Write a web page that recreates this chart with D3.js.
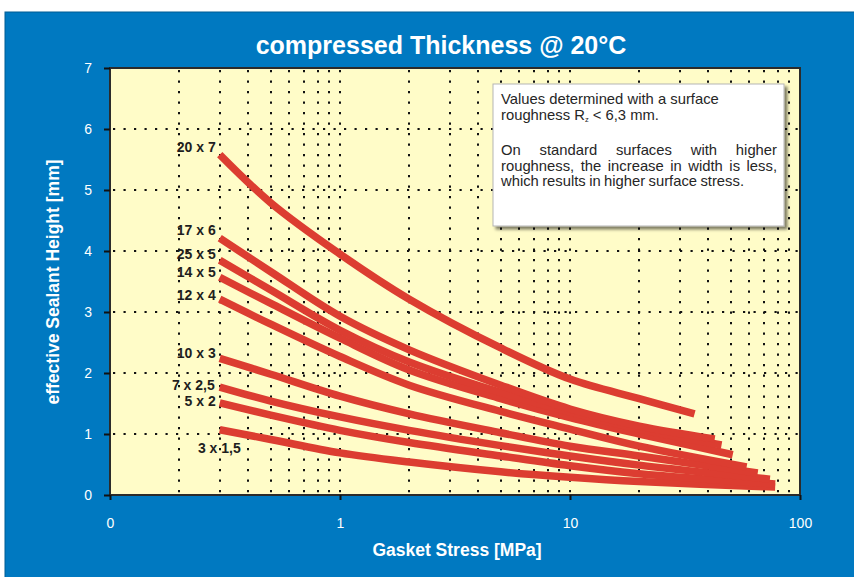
<!DOCTYPE html>
<html>
<head>
<meta charset="utf-8">
<script src="https://cdn.jsdelivr.net/npm/d3@7"></script>
<style>
  html, body { margin: 0; padding: 0; background: #ffffff; }
  svg { display: block; font-family: "Liberation Sans", Arial, sans-serif; }
</style>
</head>
<body>
<svg id="chart" width="854" height="577"></svg>
<script>
// data
const stressPoints = [0.3, 0.5, 1, 2, 5, 10, 20];
const seriesNames = ['20 x 7', '17 x 6', '25 x 5', '14 x 5', '12 x 4', '10 x 3', '7 x 2,5', '5 x 2', '3 x 1,5'];
const h20x7 = [5.58, 4.79, 3.95, 3.21, 2.41, 1.90, 1.58];
const h17x6 = [4.21, 3.66, 2.93, 2.38, 1.80, 1.41, 1.13];
const h25x5 = [3.85, 3.36, 2.70, 2.18, 1.68, 1.36, 1.08];
const h14x5 = [3.57, 3.14, 2.57, 2.05, 1.58, 1.27, 1.00];
const h12x4 = [3.21, 2.80, 2.27, 1.80, 1.37, 1.08, 0.80];
const h10x3 = [2.24, 1.98, 1.62, 1.33, 1.02, 0.80, 0.64];
const h7x25 = [1.77, 1.54, 1.28, 1.06, 0.81, 0.64, 0.49];
const h5x2 = [1.51, 1.31, 1.06, 0.86, 0.64, 0.48, 0.35];
const h3x15 = [1.07, 0.91, 0.69, 0.54, 0.38, 0.29, 0.22];
const endStress = [34.8, 42.6, 45.6, 51, 58.6, 65.5, 74, 78, 78];
const endHeight = [1.33, 0.92, 0.82, 0.66, 0.46, 0.36, 0.26, 0.18, 0.13];
const xTicks = [0.1, 1, 10, 100];
const xTickLabels = ['0', '1', '10', '100'];
const yTicks = [0, 1, 2, 3, 4, 5, 6, 7];

const heights = [h20x7, h17x6, h25x5, h14x5, h12x4, h10x3, h7x25, h5x2, h3x15];

const options = {
  colorBack: '#0179c1',
  colorPlot: '#fffcc8',
  colorCurve: '#dc3d31',
  colorText: '#ffffff',
  colorLabel: '#1e1e1e',
};

const plot = { left: 110, top: 68, right: 800, bottom: 495 };

const svg = d3.select('#chart');

const defs = svg.append('defs');
const shadow = defs.append('filter').attr('id', 'shadow')
  .attr('x', '-10%').attr('y', '-10%').attr('width', '130%').attr('height', '130%');
shadow.append('feDropShadow')
  .attr('dx', 3).attr('dy', 3).attr('stdDeviation', 1.5)
  .attr('flood-color', '#000').attr('flood-opacity', 0.5);

// blue panel
svg.append('rect')
  .attr('x', 5).attr('y', 12)
  .attr('width', 870).attr('height', 600)
  .attr('fill', options.colorBack)
  .attr('stroke', '#0a5e93')
  .attr('stroke-width', 1)
  .attr('filter', 'url(#shadow)');

const x = d3.scaleLog().domain([0.1, 100]).range([plot.left, plot.right]);
const y = d3.scaleLinear().domain([0, 7]).range([plot.bottom, plot.top]);

// plot area
svg.append('rect')
  .attr('x', plot.left).attr('y', plot.top)
  .attr('width', plot.right - plot.left).attr('height', plot.bottom - plot.top)
  .attr('fill', options.colorPlot);

// dotted grid
const gridX = [];
[0.1, 1, 10].forEach((dec) => {
  for (let k = 1; k <= 9; k += 1) {
    if (dec * k > 0.1) gridX.push(dec * k);
  }
});
const grid = svg.append('g').attr('stroke', '#111').attr('stroke-width', 2)
  .attr('stroke-dasharray', '2.2 8.3');
grid.selectAll('line.gx')
  .data(gridX)
  .enter().append('line')
  .attr('class', 'gx')
  .attr('x1', (d) => Math.round(x(d)))
  .attr('x2', (d) => Math.round(x(d)))
  .attr('y1', plot.top + 2)
  .attr('y2', plot.bottom);
grid.selectAll('line.gy')
  .data(yTicks.filter((d) => d > 0 && d < 7))
  .enter().append('line')
  .attr('class', 'gy')
  .attr('x1', plot.left + 3)
  .attr('x2', plot.right)
  .attr('y1', (d) => Math.round(y(d)))
  .attr('y2', (d) => Math.round(y(d)));

// plot border
svg.append('rect')
  .attr('x', plot.left).attr('y', plot.top)
  .attr('width', plot.right - plot.left).attr('height', plot.bottom - plot.top)
  .attr('fill', 'none')
  .attr('stroke', '#2b2b2b')
  .attr('stroke-width', 2);

// axes
const yAxis = svg.append('g')
  .attr('transform', `translate(${plot.left},0)`)
  .call(d3.axisLeft(y).tickValues(yTicks).tickSize(6).tickPadding(12).tickFormat(d3.format('d')));
const xAxis = svg.append('g')
  .attr('transform', `translate(0,${plot.bottom})`)
  .call(d3.axisBottom(x).tickValues(xTicks).tickSize(5).tickPadding(18)
    .tickFormat((d, i) => xTickLabels[i]));

[xAxis, yAxis].forEach((ax) => {
  ax.select('.domain').remove();
  ax.selectAll('.tick line').attr('stroke', '#111').attr('stroke-width', 2);
  ax.selectAll('.tick text')
    .attr('fill', options.colorText)
    .attr('font-size', 14)
    .attr('font-family', '"Liberation Sans", Arial, sans-serif');
});

// curves
const line = d3.line()
  .x((d) => x(d[0]))
  .y((d) => y(d[1]))
  .curve(d3.curveCatmullRom.alpha(0.5));

const seriesData = seriesNames.map((name, i) => ({
  name,
  points: stressPoints.map((s, j) => [s, heights[i][j]])
    .concat([[endStress[i], endHeight[i]]]),
}));

svg.append('g')
  .selectAll('path')
  .data(seriesData.slice().reverse())
  .enter().append('path')
  .attr('d', (d) => line(d.points))
  .attr('fill', 'none')
  .attr('stroke', options.colorCurve)
  .attr('stroke-width', 7.5)
  .attr('stroke-linecap', 'butt');

// curve labels
const labelPos = [
  { dx: -4, dy: -3, anchor: 'end' },
  { dx: -4, dy: -3, anchor: 'end' },
  { dx: -4, dy: -1, anchor: 'end' },
  { dx: -4, dy: 0, anchor: 'end' },
  { dx: -4, dy: 1, anchor: 'end' },
  { dx: -4, dy: 0, anchor: 'end' },
  { dx: -5, dy: 3, anchor: 'end' },
  { dx: -4, dy: 3, anchor: 'end' },
  { dx: 21, dy: 23, anchor: 'end' },
];
svg.append('g')
  .selectAll('text')
  .data(seriesData)
  .enter().append('text')
  .attr('x', (d, i) => x(stressPoints[0]) + labelPos[i].dx)
  .attr('y', (d, i) => y(d.points[0][1]) + labelPos[i].dy)
  .attr('text-anchor', (d, i) => labelPos[i].anchor)
  .attr('font-size', 14)
  .attr('font-weight', 'bold')
  .attr('fill', options.colorLabel)
  .text((d) => d.name);

// note box
const note = svg.append('g');
note.append('rect')
  .attr('x', 493).attr('y', 84)
  .attr('width', 291).attr('height', 142)
  .attr('fill', '#ffffff')
  .attr('stroke', '#b5b5b5')
  .attr('stroke-width', 1)
  .attr('filter', 'url(#shadow)');

const noteFont = 14.8;
function wordsLine(words, x0, x1, baseline) {
  const g = note.append('g');
  const nodes = words.map((w) => g.append('text')
    .attr('y', baseline)
    .attr('font-size', noteFont)
    .attr('fill', '#262626')
    .text(w));
  const widths = nodes.map((n) => n.node().getComputedTextLength());
  const total = d3.sum(widths);
  const gap = x1 == null ? noteFont * 0.28 : (x1 - x0 - total) / (words.length - 1);
  let cx = x0;
  nodes.forEach((n, i) => {
    n.attr('x', cx);
    cx += widths[i] + gap;
  });
}

wordsLine(['Values', 'determined', 'with', 'a', 'surface'], 501, null, 104);
const rz = note.append('text').attr('x', 501).attr('y', 119.5)
  .attr('font-size', noteFont).attr('fill', '#262626');
rz.append('tspan').text('roughness R');
rz.append('tspan').attr('font-size', 7.5).attr('dy', 2).text('z');
rz.append('tspan').attr('dy', -2).text(' < 6,3 mm.');
wordsLine(['On', 'standard', 'surfaces', 'with', 'higher'], 501, 777, 155);
wordsLine(['roughness,', 'the', 'increase', 'in', 'width', 'is', 'less,'], 501, 777, 170.5);
wordsLine(['which', 'results', 'in', ' higher', 'surface', 'stress.'], 501, 744, 186);

// titles
svg.append('text')
  .attr('x', 441).attr('y', 54)
  .attr('text-anchor', 'middle')
  .attr('font-size', 25)
  .attr('font-weight', 'bold')
  .attr('fill', options.colorText)
  .text('compressed Thickness @ 20°C');

svg.append('text')
  .attr('x', 457).attr('y', 556)
  .attr('text-anchor', 'middle')
  .attr('font-size', 17.5)
  .attr('font-weight', 'bold')
  .attr('fill', options.colorText)
  .text('Gasket Stress [MPa]');

svg.append('text')
  .attr('transform', 'translate(59,282) rotate(-90)')
  .attr('text-anchor', 'middle')
  .attr('font-size', 17.5)
  .attr('font-weight', 'bold')
  .attr('fill', options.colorText)
  .text('effective Sealant Height [mm]');
</script>
</body>
</html>
